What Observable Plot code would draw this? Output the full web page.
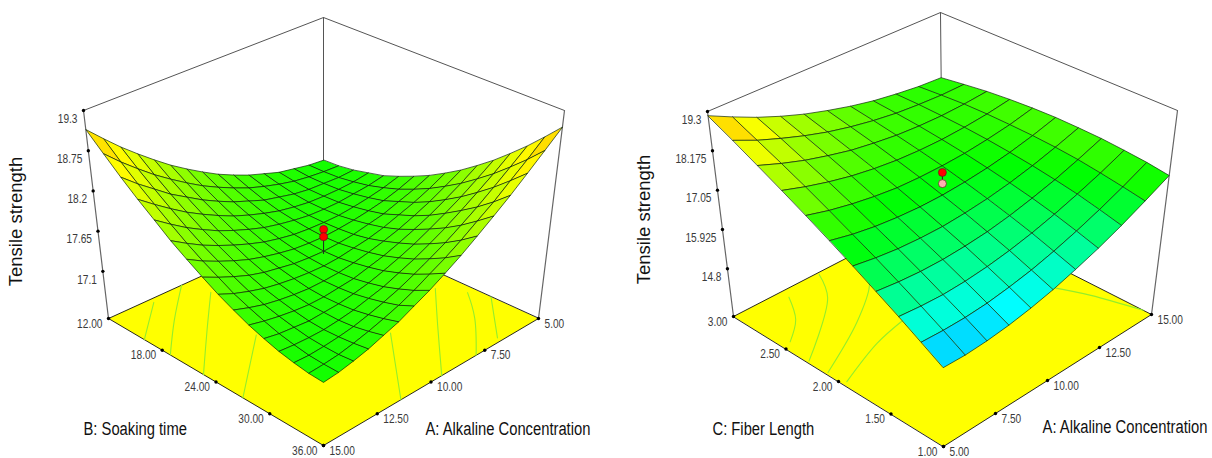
<!DOCTYPE html>
<html>
<head>
<meta charset="utf-8">
<script src="https://cdn.jsdelivr.net/npm/d3@7"></script>
<script src="https://cdn.jsdelivr.net/npm/@observablehq/plot@0.6"></script>
<style>html,body{margin:0;padding:0;background:#fff}svg{display:block}</style>
</head>
<body>
<div id="chart"></div>
<script>
// Surface heights are eye estimates. The mesh is typed at about half the
// reference's line density (15x15 and 10x10 cells) rather than filled in by a formula.
const zTitle = "Tensile strength";
const alkalineTicks = [5, 7.5, 10, 12.5, 15];
const soakingTicks = [12, 18, 24, 30, 36];
const fiberTicks = [1, 1.5, 2, 2.5, 3];
const zTicksLeft = [17.1, 17.65, 18.2, 18.75, 19.3];
const zTicksRight = [14.8, 15.925, 17.05, 18.175, 19.3];

// rows: alkaline 5 -> 15, columns: soaking 12 -> 36
const soakingSurface = [
[17.30,17.31,17.34,17.39,17.44,17.52,17.61,17.71,17.83,17.96,18.11,18.27,18.45,18.64,18.85,19.07],
[17.32,17.32,17.33,17.36,17.40,17.46,17.53,17.62,17.72,17.84,17.97,18.12,18.28,18.46,18.65,18.86],
[17.36,17.34,17.34,17.35,17.38,17.42,17.47,17.55,17.63,17.73,17.85,17.98,18.13,18.29,18.47,18.66],
[17.40,17.37,17.35,17.35,17.36,17.39,17.43,17.48,17.56,17.64,17.74,17.86,17.99,18.13,18.29,18.47],
[17.47,17.42,17.38,17.36,17.36,17.37,17.40,17.44,17.49,17.56,17.65,17.75,17.86,17.99,18.14,18.30],
[17.54,17.48,17.43,17.39,17.37,17.37,17.38,17.40,17.44,17.50,17.57,17.65,17.75,17.86,17.99,18.14],
[17.63,17.55,17.48,17.43,17.40,17.38,17.37,17.38,17.41,17.45,17.50,17.57,17.65,17.75,17.86,17.99],
[17.73,17.64,17.56,17.49,17.44,17.40,17.38,17.37,17.38,17.41,17.45,17.50,17.57,17.65,17.75,17.86],
[17.85,17.74,17.64,17.56,17.49,17.44,17.40,17.38,17.37,17.38,17.40,17.44,17.49,17.56,17.64,17.74],
[17.98,17.85,17.74,17.64,17.56,17.49,17.44,17.40,17.38,17.37,17.38,17.40,17.44,17.49,17.55,17.64],
[18.12,17.98,17.85,17.74,17.64,17.56,17.49,17.44,17.40,17.37,17.36,17.37,17.39,17.43,17.48,17.54],
[18.28,18.12,17.98,17.85,17.73,17.64,17.55,17.48,17.43,17.39,17.36,17.36,17.36,17.38,17.42,17.47],
[18.45,18.27,18.11,17.97,17.84,17.73,17.63,17.54,17.47,17.42,17.38,17.35,17.34,17.35,17.37,17.40],
[18.63,18.44,18.27,18.11,17.96,17.83,17.72,17.62,17.53,17.46,17.41,17.37,17.34,17.33,17.33,17.35],
[18.83,18.62,18.43,18.26,18.10,17.95,17.82,17.71,17.60,17.52,17.45,17.39,17.35,17.32,17.31,17.31],
[19.04,18.82,18.61,18.42,18.25,18.08,17.94,17.81,17.69,17.59,17.50,17.43,17.37,17.33,17.30,17.29]];

// rows: alkaline 5 -> 15, columns: fiber length 1 -> 3
const fiberSurface = [
[15.59,15.94,16.30,16.65,17.01,17.37,17.73,18.09,18.45,18.82,19.18],
[15.58,15.92,16.25,16.58,16.91,17.23,17.56,17.89,18.21,18.53,18.86],
[15.62,15.93,16.23,16.54,16.84,17.13,17.43,17.72,18.00,18.29,18.56],
[15.70,15.98,16.26,16.54,16.81,17.07,17.33,17.58,17.83,18.07,18.30],
[15.82,16.08,16.33,16.58,16.81,17.04,17.26,17.48,17.68,17.88,18.07],
[15.98,16.21,16.44,16.65,16.86,17.05,17.24,17.41,17.58,17.73,17.88],
[16.19,16.39,16.59,16.77,16.94,17.10,17.25,17.38,17.50,17.61,17.71],
[16.43,16.61,16.78,16.93,17.06,17.18,17.29,17.38,17.46,17.52,17.57],
[16.72,16.87,17.01,17.12,17.22,17.30,17.37,17.42,17.45,17.47,17.47],
[17.06,17.17,17.27,17.36,17.42,17.46,17.48,17.49,17.48,17.44,17.39],
[17.43,17.52,17.58,17.63,17.65,17.66,17.64,17.60,17.54,17.45,17.35]];

// floor contours, as [alkaline, second factor] pairs read from the floor
const soakingContours = [
 [[15,16],[13.1,12.5]],
 [[15,18.9],[13.4,15.5],[11.6,12]],
 [[15,22.6],[13,18.2],[11.2,14.3]],
 [[15,27],[12,21.3]],
 [[11.4,36],[8.8,28.6]],
 [[9.5,36],[7.4,30.5],[5.8,26.4]],
 [[7.9,36],[6.3,32],[5.3,28.8]],
 [[6.7,35.5],[5,30.7]]];
const fiberContours = [
 [[7.25,2.92],[6.47,2.7],[5.4,2.54]],
 [[9,2.98],[8.2,2.74],[5.1,2.3]],
 [[10.3,2.8],[9.8,2.66],[7.9,2.4],[5.1,2.12]],
 [[9.1,2.2],[7.5,2.13],[5.2,1.96]],
 [[14,1.74],[14.5,1.48],[15,1.08]]];

// design points: [alkaline, second factor, strength]
const soakingDesign = [[10,24,17.77,"#ff0000"],[10,24,17.67,"#ff0000"]];
const fiberDesign = [[10,2,17.7,"#ff0000"],[10,2,17.38,"#ffb0b0"]];

// camera of each box: pixel place of its eight corners, named by position on screen
const leftBox = {
  b: [12, 36], zr: [16.455, 19.3],
  floor: {c00: [323, 220], c10: [108, 318], c01: [538, 318], c11: [323, 445]},
  top:   {c00: [323, 17],  c10: [83, 110],  c01: [564, 110], c11: [323, 230]}
};
const rightBox = {
  b: [1, 3], zr: [13.435, 19.3],
  floor: {c00: [943, 446], c10: [1151, 314], c01: [733, 316], c11: [942, 208]},
  top:   {c00: [943, 231], c10: [1177, 110], c01: [707, 111], c11: [940, 12]}
};

function project(box, a, b, z) {
  const u = (a - 5) / 10, v = (b - box.b[0]) / (box.b[1] - box.b[0]);
  const t = (z - box.zr[0]) / (box.zr[1] - box.zr[0]);
  const bil = (s, k) => s.c00[k]*(1-u)*(1-v) + s.c10[k]*u*(1-v) + s.c01[k]*(1-u)*v + s.c11[k]*u*v;
  return {x: bil(box.floor, 0)*(1-t) + bil(box.top, 0)*t, y: bil(box.floor, 1)*(1-t) + bil(box.top, 1)*t};
}

function cells(box, table, prefix, backFirst) {
  const n = table.length - 1, m = table[0].length - 1, list = [];
  for (let i = 0; i < n; i++) for (let j = 0; j < m; j++) list.push([i, j]);
  list.sort((p, q) => backFirst * ((p[0]+p[1]) - (q[0]+q[1])));
  const rows = [];
  for (const [i, j] of list) {
    const corners = [[i,j],[i+1,j],[i+1,j+1],[i,j+1]];
    const value = d3.mean(corners, ([r,c]) => table[r][c]);
    for (const [r,c] of corners) {
      const a = 5 + 10*r/n, b = box.b[0] + (box.b[1]-box.b[0])*c/m;
      rows.push({...project(box, a, b, table[r][c]), cell: `${prefix}${i}-${j}`, value});
    }
  }
  return rows;
}

const font = "'Liberation Sans',Arial,sans-serif";
const tickInk = "#3a3a3a";

function panel(box, table, prefix, backFirst, bTicks, zTicks, contours, design, zCorner) {
  const [b0, b1] = box.b, [z0, z1] = box.zr;
  const P = (a, b, z) => project(box, a, b, z);
  const [za, zb] = zCorner;
  const far = prefix === "L" ? [[5, b1]] : [[15, b0]];
  const backC = prefix === "L" ? [5, b0] : [15, b1];
  const floorOutline = prefix === "L"
    ? [[5,b0],[15,b0],[15,b1],[5,b1]].map(([a,b]) => P(a,b,z0))
    : [[5,b1],[15,b1],[15,b0],[5,b0]].map(([a,b]) => P(a,b,z0));
  const leftTop = P(za, zb, z1), leftBase = P(za, zb, z0);
  const rightTop = P(far[0][0], far[0][1], z1), rightBase = P(far[0][0], far[0][1], z0);
  const backTop = P(backC[0], backC[1], z1), backBase = P(backC[0], backC[1], z0);
  const frontCorner = prefix === "L" ? [15, b1] : [5, b0];
  const bAxisA = frontCorner[0];   // second factor runs along this alkaline value
  const aAxisB = frontCorner[1];   // alkaline runs along this second-factor value
  const bTickRows = bTicks.map(b => ({...P(bAxisA, b, z0), label: b.toFixed(2)}));
  const aTickRows = alkalineTicks.map(a => ({...P(a, aAxisB, z0), label: a.toFixed(2)}));
  const zTickRows = zTicks.map(z => ({...P(za, zb, z), label: String(z)}));
  const contourRows = contours.flatMap((c, k) => c.map(([a,b]) => ({...P(a,b,z0), k})));
  const sticks = [P(design[0][0], design[0][1], design[0][2]), P(design[0][0], design[0][1], design[0][2]-0.33)];
  const designRows = design.map(d => ({...P(d[0], d[1], d[2]), c: d[3]}));
  const xy = {x: "x", y: "y"};
  return [
    Plot.line([leftTop, backTop, rightTop], {...xy, stroke: "#555", strokeWidth: 1}),
    Plot.line([backTop, backBase], {...xy, stroke: "#555", strokeWidth: 1}),
    Plot.line([leftTop, leftBase], {...xy, stroke: "#666", strokeWidth: 1.2}),
    Plot.line([rightTop, rightBase], {...xy, stroke: "#666", strokeWidth: 1.2}),
    Plot.line(floorOutline, {...xy, fill: "#ffff00", stroke: "#111", strokeWidth: 0.9, curve: "linear-closed"}),
    Plot.line(contourRows, {...xy, z: "k", stroke: "#94ee2a", strokeWidth: 1.1, curve: "catmull-rom"}),
    Plot.line(cells(box, table, prefix, backFirst), {...xy, z: "cell", fill: "value", stroke: "#10280c", strokeWidth: 0.7, curve: "linear-closed"}),
    Plot.line(sticks, {...xy, stroke: "#222", strokeWidth: 1}),
    Plot.dot(designRows, {...xy, r: 4, fill: "c", stroke: "#5a2020", strokeWidth: 0.7}),
    Plot.dot([...bTickRows, ...aTickRows, ...zTickRows], {...xy, r: 1.7, fill: "#000"}),
    Plot.text(zTickRows, {...xy, text: "label", textAnchor: "end", dx: -6, dy: 8, fill: tickInk, fontSize: 13, fontFamily: font}),
    Plot.text(bTickRows, {...xy, text: "label", textAnchor: "end", dx: -6, dy: 5, fill: tickInk, fontSize: 13, fontFamily: font}),
    Plot.text(aTickRows, {...xy, text: "label", textAnchor: "start", dx: 6, dy: 5, fill: tickInk, fontSize: 13, fontFamily: font})
  ];
}

// axis titles: [text, x, y]
const axisTitles = [
  ["B: Soaking time", 83, 429], ["A: Alkaline Concentration", 425, 429],
  ["C: Fiber Length", 712, 429]
];
const lastAxisTitle = [["A: Alkaline Concentration", 1207, 427]];
const zTitles = [[zTitle, 16, 221], [zTitle, 644, 219]];

const chart = Plot.plot({
  width: 1212, height: 458, margin: 0,
  x: {domain: [0, 1212], range: [0, 1212], axis: null},
  y: {domain: [0, 458], range: [0, 458], axis: null},
  color: {type: "linear", domain: [14.87, 15.9, 17.2, 18.6, 20.6], range: ["#0000ff", "#00ffff", "#00ff00", "#ffff00", "#ff0000"], interpolate: "rgb", clamp: true},
  style: {background: "#fff"},
  marks: [
    ...panel(leftBox, soakingSurface, "L", 1, soakingTicks, zTicksLeft, soakingContours, soakingDesign, [15, 12]),
    ...panel(rightBox, fiberSurface, "R", -1, fiberTicks, zTicksRight, fiberContours, fiberDesign, [5, 3]),
    Plot.text(axisTitles, {x: d => d[1], y: d => d[2], text: d => d[0], textAnchor: "start", fill: "#111", fontSize: 18, fontFamily: font}),
    Plot.text(lastAxisTitle, {x: d => d[1], y: d => d[2], text: d => d[0], textAnchor: "end", fill: "#111", fontSize: 18, fontFamily: font}),
    Plot.text(zTitles, {x: d => d[1], y: d => d[2], text: d => d[0], rotate: -90, fill: "#111", fontSize: 18.5, fontFamily: font})
  ]
});
document.getElementById("chart").appendChild(chart);

// the reference's lettering is squeezed sideways: keep it real text, narrowed to the same width
const squeeze = {"13": 0.78, "18": 0.82};
chart.querySelectorAll("text").forEach(t => {
  const k = squeeze[t.parentElement.getAttribute("font-size")];
  if (k) {
    t.setAttribute("textLength", (t.getComputedTextLength() * k).toFixed(1));
    t.setAttribute("lengthAdjust", "spacingAndGlyphs");
  }
});
</script>
</body>
</html>
